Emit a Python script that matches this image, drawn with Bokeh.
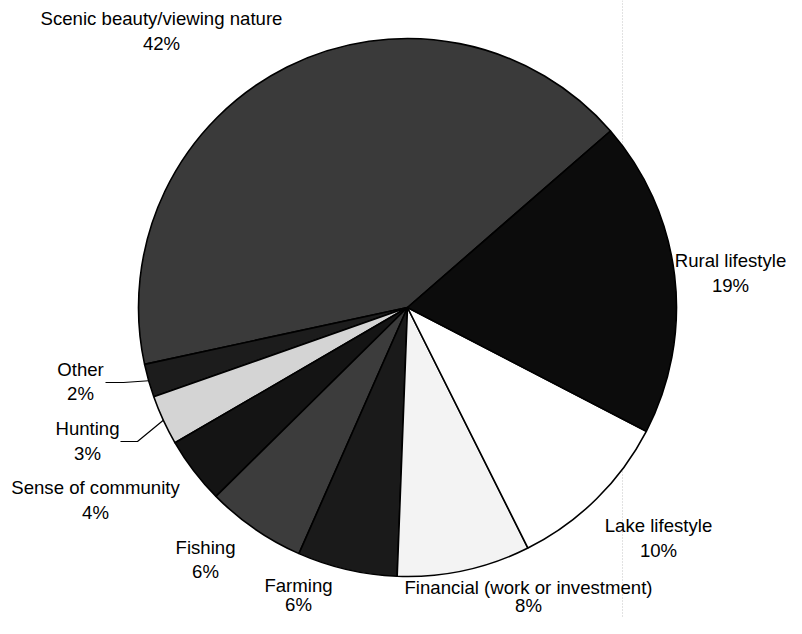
import numpy as np
from bokeh.plotting import figure
from bokeh.models import Range1d, ColumnDataSource
from bokeh.embed import file_html
from bokeh.resources import INLINE
from bokeh.core.properties import value

# ---- data (counter-clockwise order starting at the Scenic/Rural border) ----
categories = ["Scenic beauty/viewing nature", "Other", "Hunting", "Sense of community",
              "Fishing", "Farming", "Financial (work or investment)", "Lake lifestyle",
              "Rural lifestyle"]
shares = [42, 2, 3, 4, 6, 6, 8, 10, 19]
pct_labels = ["42%", "2%", "3%", "4%", "6%", "6%", "8%", "10%", "19%"]

# ---- styling / layout ----
fills = ["#3a3a3a", "#1c1c1c", "#d4d4d4", "#141414", "#3c3c3c", "#1a1a1a",
         "#f3f3f3", "#ffffff", "#0c0c0c"]
# label anchor (picture px): centre x, y of first line, gap to second line
label_pos = [(161, 18, 25), (80, 369, 24), (87, 428, 25), (95, 487, 25), (205, 547, 24),
             (298, 585, 19), (528, 587, 18), (658, 525, 25), (730, 260, 25)]
# leader lines: slice index, start x, y, elbow x (picture px)
leaders = [(1, 105, 382, 123), (2, 120, 441, 137)]

W, H = 786, 618
PAGE_H = 634


def py(y):  # picture y -> data y
    return PAGE_H - y


CX, CY, R = 407, py(307), 269
START = 41.0

p = figure(width=W, height=H, output_backend="svg", toolbar_location=None,
           x_range=Range1d(0, W), y_range=Range1d(PAGE_H - H, PAGE_H),
           min_border=0)
p.axis.visible = False
p.grid.visible = False
p.outline_line_color = None
p.background_fill_color = "white"
p.border_fill_color = "white"

# scan artifact: faint dotted vertical line
p.line([622, 622], [py(0), py(634)], line_color="#c4c4c4", line_width=1, line_dash="1 2")

vals = np.array(shares, dtype=float)
frac = vals / vals.sum()
ends = np.radians(START) + np.cumsum(frac) * 2 * np.pi
starts = ends - frac * 2 * np.pi

src = ColumnDataSource(dict(start=starts, end=ends, fill=fills, cat=categories))
p.wedge(x=CX, y=CY, radius=R, start_angle="start", end_angle="end", source=src,
        fill_color="fill", line_color="black", line_width=1.6, direction="anticlock")

# leader lines for Other and Hunting
for idx, x0, y0, x1 in leaders:
    mid = (starts[idx] + ends[idx]) / 2
    ex = CX + R * np.cos(mid)
    ey = CY + R * np.sin(mid)
    p.line([x0, x1, ex], [py(y0), py(y0), ey], line_color="black", line_width=1.2)

font = value("Liberation Sans")
for cat, pct, (lx, ly, gap) in zip(categories, pct_labels, label_pos):
    p.text(x=[lx], y=[py(ly)], text=[cat], text_font=font, text_font_size="18.6px",
           text_align="center", text_baseline="middle", text_color="#000000")
    p.text(x=[lx], y=[py(ly + gap)], text=[pct], text_font=font, text_font_size="18.6px",
           text_align="center", text_baseline="middle", text_color="#000000")

open("out.html", "w").write(file_html(p, INLINE))
